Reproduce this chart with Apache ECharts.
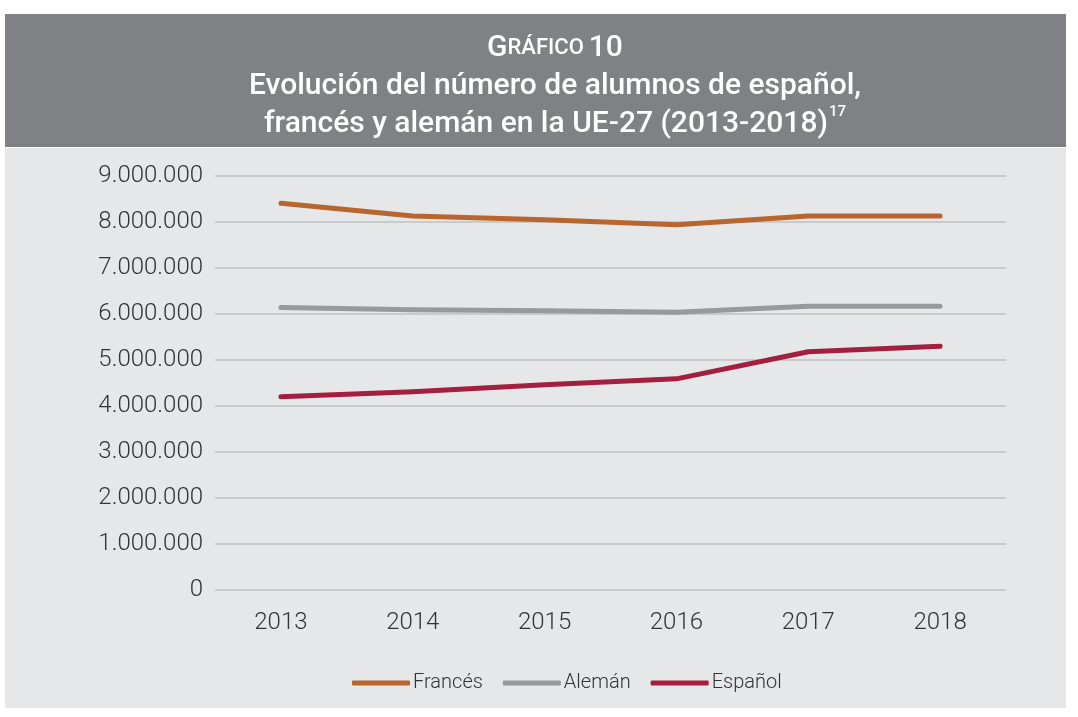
<!DOCTYPE html>
<html>
<head>
    <meta charset="utf-8">
    <title>Gráfico 10</title>
    <style>
        html, body { margin: 0; padding: 0; background: #fff; }
        #chart { width: 1078px; height: 717px; }
    </style>
</head>
<body>
<div id="chart"></div>
<script src="https://cdn.jsdelivr.net/npm/echarts@6/dist/echarts.min.js"></script>
<script>
    // datos
    var years = ['2013', '2014', '2015', '2016', '2017', '2018'];
    var frances = [8410000, 8130000, 8050000, 7940000, 8130000, 8130000];
    var aleman = [6140000, 6090000, 6070000, 6040000, 6170000, 6170000];
    var espanol = [4200000, 4310000, 4460000, 4590000, 5180000, 5300000];
    var seriesNames = ['Francés', 'Alemán', 'Español'];
    var colors = ['#b9652f', '#98999c', '#a31f3f'];

    var myChart = echarts.init(document.getElementById('chart'));

    // 9000000 -> 9.000.000
    function puntos(v) {
        return String(v).replace(/\B(?=(\d{3})+(?!\d))/g, '.');
    }

    var font = 'Roboto, "Liberation Sans", sans-serif';

    function linea(name, data, color) {
        return {
            name: name,
            type: 'line',
            data: data,
            symbol: 'none',
            lineStyle: { color: color, width: 5, cap: 'round', join: 'round' },
            itemStyle: { color: color }
        };
    }

    var option = {
        backgroundColor: '#ffffff',
        animation: false,
        graphic: [
            { type: 'rect', shape: { x: 5, y: 14, width: 1061, height: 133 }, style: { fill: '#808184' }, z: -10 },
            { type: 'rect', shape: { x: 5, y: 148, width: 1061, height: 560 }, style: { fill: '#e6e7e8' }, z: -10 }
        ],
        title: {
            left: 550,
            textAlign: 'center',
            top: 24,
            text: '{big|G}{small|RÁFICO} {big|10}\n{t|Evolución del número de alumnos de español,}\n{t|francés y alemán en la UE-27 (2013-2018)}{sup|17}',
            textStyle: {
                color: '#fff',
                lineHeight: 38,
                rich: {
                    big: { fontFamily: font, fontSize: 30, fontWeight: 500, color: '#fff', lineHeight: 38 },
                    small: { fontFamily: font, fontSize: 22, fontWeight: 500, color: '#fff', lineHeight: 38 },
                    t: { fontFamily: font, fontSize: 30, fontWeight: 500, color: '#fff', lineHeight: 38 },
                    sup: { fontFamily: font, fontSize: 15, fontWeight: 500, color: '#fff', verticalAlign: 'top', lineHeight: 38, padding: [0, 0, 18, 1] }
                }
            }
        },
        legend: {
            left: 352,
            top: 673,
            padding: 0,
            data: seriesNames,
            icon: 'roundRect',
            itemWidth: 58,
            itemHeight: 5,
            itemGap: 20,
            textStyle: { fontFamily: font, fontSize: 20, fontWeight: 300, color: '#333', padding: [0, 0, 0, -2] }
        },
        grid: { left: 215, right: 72, top: 176, bottom: 127 },
        xAxis: {
            type: 'category',
            data: years,
            boundaryGap: true,
            axisLine: { show: false },
            axisTick: { show: false },
            axisLabel: { margin: 21, fontFamily: font, fontSize: 24, fontWeight: 300, color: '#333' }
        },
        yAxis: {
            type: 'value',
            min: 0,
            max: 9000000,
            interval: 1000000,
            axisLine: { show: false },
            axisTick: { show: false },
            splitLine: { lineStyle: { color: '#bfc0c2', width: 1.5 } },
            axisLabel: {
                margin: 12,
                fontFamily: font,
                fontSize: 24,
                fontWeight: 300,
                color: '#333',
                formatter: function (v) { return puntos(v); }
            }
        },
        series: [
            linea(seriesNames[0], frances, colors[0]),
            linea(seriesNames[1], aleman, colors[1]),
            linea(seriesNames[2], espanol, colors[2])
        ]
    };
    myChart.setOption(option);
</script>
</body>
</html>
